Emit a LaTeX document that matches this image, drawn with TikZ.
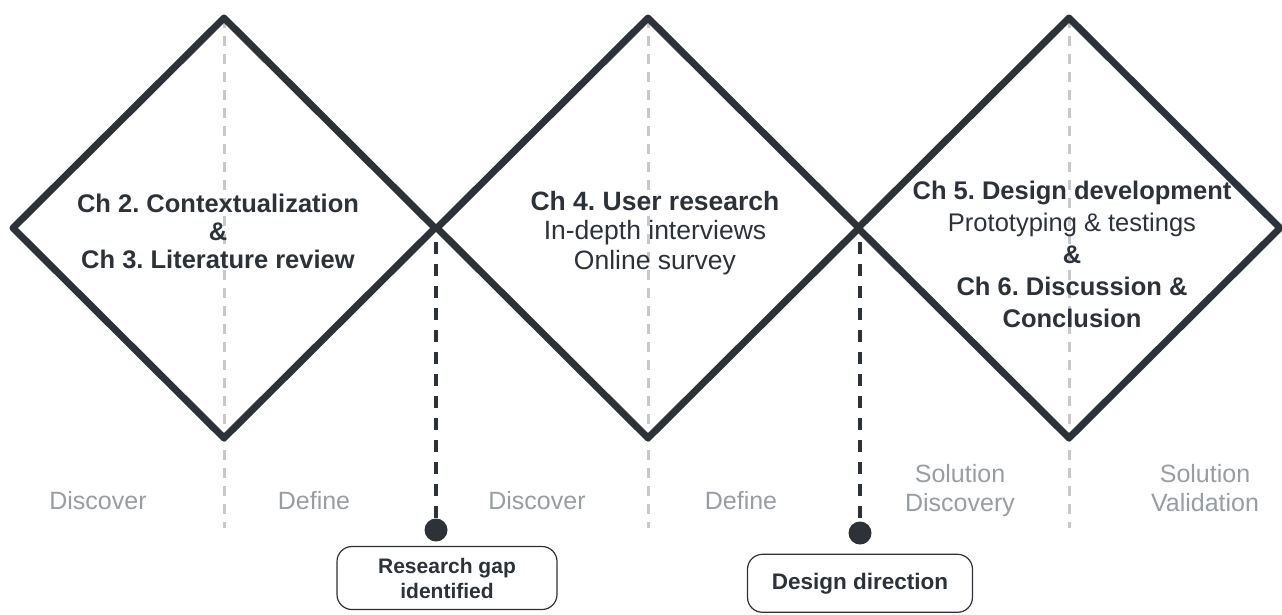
\documentclass[tikz,border=0pt]{standalone}
\usepackage{fontspec}
\setmainfont{Liberation Sans}
\usepackage{tikz}
\usepackage{xcolor}
\usetikzlibrary{positioning}
\frenchspacing
\definecolor{ink}{RGB}{44,50,56}
\definecolor{soft}{RGB}{152,157,162}
\definecolor{guide}{RGB}{200,200,200}
\tikzset{
    diamond-line/.style = {draw=ink, line width=7pt, line join=round},
    guide-line/.style = {draw=guide, line width=3pt, dash pattern=on 10pt off 8pt},
    gate-line/.style = {draw=ink, line width=3.5pt, dash pattern=on 12pt off 10pt},
    gate-dot/.style = {circle, fill=ink, inner sep=0pt, minimum size=23pt},
    gate-box/.style = {draw=ink, fill=white, line width=1.2pt, rectangle, rounded corners=15pt, align=center, text=ink, font=\bfseries\fontsize{21}{25}\selectfont},
    stage-text/.style = {text=ink, align=center, font=\fontsize{25.5}{28}\selectfont},
    phase-label/.style = {text=soft, align=center, font=\fontsize{25}{29}\selectfont},
}

\begin{document}
\begin{tikzpicture}[x=1pt, y=-1pt]
\useasboundingbox (0,0) rectangle (1282,614);
% guides in the middle of each diamond
\foreach \cx in {224,648,1069} {
    \draw[guide-line] (\cx,18) -- (\cx,528);
}
% the three diamonds
\foreach \cx in {224,648,1069} {
    \draw[diamond-line] ({\cx-211},228) -- (\cx,18) -- ({\cx+211},228) -- (\cx,438) -- cycle;
}
\node[stage-text] (ch-two) at (218,231) {\textbf{Ch 2. Contextualization}\\\textbf{\&}\\\textbf{Ch 3. Literature review}};
\node[stage-text, font=\fontsize{26.5}{29.5}\selectfont] (ch-four) at (655,233) {\textbf{Ch 4. User research}\\In-depth interviews\\Online survey};
\node[stage-text, font=\fontsize{25.5}{32}\selectfont] (ch-five) at (1072,254) {\textbf{Ch 5. Design development}\\Prototyping \& testings\\\textbf{\&}\\\textbf{Ch 6. Discussion \&}\\\textbf{Conclusion}};
% phase labels
\node[phase-label] (disc-a) at (98,501) {Discover};
\node[phase-label] (def-a) at (314,501) {Define};
\node[phase-label] (disc-b) at (537,501) {Discover};
\node[phase-label] (def-b) at (741,501) {Define};
\node[phase-label] (sol-disc) at (960,491) {Solution\\Discovery};
\node[phase-label] (sol-val) at (1205,488) {Solution\\Validation};
% milestones
\coordinate (gap-top) at (436,242);
\node[gate-dot] (gap-dot) at (436,530) {};
\draw[gate-line] (gap-top) -- (gap-dot);
\node[gate-box, minimum width=220pt, minimum height=63pt] (gap-box) at (447,578) {Research gap\\identified};
\coordinate (dir-top) at (860,242);
\node[gate-dot] (dir-dot) at (860,533) {};
\draw[gate-line] (dir-top) -- (dir-dot);
\node[gate-box, minimum width=225pt, minimum height=58pt, below=9pt of dir-dot, font=\bfseries\fontsize{22.5}{26}\selectfont] (dir-box) {Design direction};
\end{tikzpicture}
\end{document}
